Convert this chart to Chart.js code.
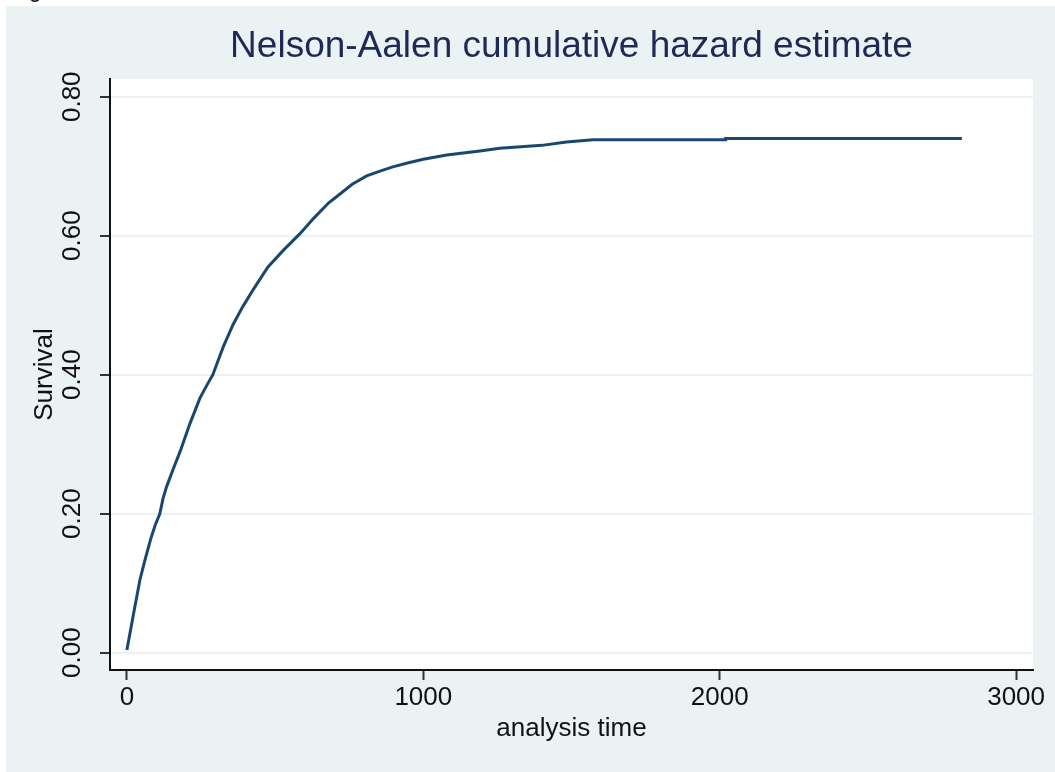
<!DOCTYPE html>
<html lang="en">
<head>
  <meta charset="UTF-8" />
  <title>Nelson-Aalen cumulative hazard estimate</title>
  <script src="https://cdn.jsdelivr.net/npm/chart.js"></script>
  <style>
    body { margin: 0; background: #fff; font-family: "Liberation Sans", Arial, sans-serif; }
    #frame { position: absolute; left: 6px; top: 6px; width: 1049px; height: 766px; background: #eaf2f3; }
    #stray { position: absolute; left: 29px; top: -20.6px; font-size: 22px; line-height: 1; color: #111; }
  </style>
</head>
<body>
  <div id="stray">g</div>
  <div id="frame">
    <canvas id="hazardChart" width="1049" height="766"></canvas>
  </div>

  <script>
    // values
    const times  = [0, 22, 44, 62, 80, 95, 111, 122, 134, 157, 180, 213, 246, 270, 290, 325, 358, 391, 430, 476, 530, 584, 630, 680, 719, 760, 809, 854, 897, 950, 1000, 1079, 1191, 1258, 1400, 1483, 1573, 2018, 2020, 2817];
    const hazard = [0.004, 0.055, 0.105, 0.135, 0.163, 0.183, 0.200, 0.222, 0.239, 0.265, 0.290, 0.330, 0.366, 0.385, 0.400, 0.440, 0.472, 0.498, 0.525, 0.555, 0.580, 0.603, 0.625, 0.647, 0.660, 0.674, 0.686, 0.693, 0.699, 0.705, 0.710, 0.716, 0.722, 0.726, 0.730, 0.735, 0.738, 0.738, 0.740, 0.740];
    const xTicks = [0, 1000, 2000, 3000];
    const yTicks = [0, 0.2, 0.4, 0.6, 0.8];

    const font = "'Liberation Sans', Arial, sans-serif";

    const plotBackground = {
      id: "plotBackground",
      beforeDraw(chart) {
        const a = chart.chartArea;
        chart.ctx.save();
        chart.ctx.fillStyle = "#ffffff";
        chart.ctx.fillRect(a.left, a.top, a.right - a.left, a.bottom - a.top);
        chart.ctx.restore();
      }
    };

    // y tick labels are rotated like the Stata original
    const rotatedYLabels = {
      id: "rotatedYLabels",
      afterDraw(chart) {
        const ctx = chart.ctx;
        const y = chart.scales.y;
        ctx.save();
        ctx.fillStyle = "#111111";
        ctx.font = "26px " + font;
        ctx.textAlign = "center";
        ctx.textBaseline = "middle";
        yTicks.forEach(v => {
          ctx.save();
          ctx.translate(67, y.getPixelForValue(v));
          ctx.rotate(-Math.PI / 2);
          ctx.fillText(v.toFixed(2), 0, 0);
          ctx.restore();
        });
        ctx.restore();
      }
    };

    const ctx = document.getElementById("hazardChart").getContext("2d");
    new Chart(ctx, {
      type: "line",
      data: {
        datasets: [{
          data: times.map((t, i) => ({ x: t, y: hazard[i] })),
          borderColor: "#1a476f",
          borderWidth: 3,
          pointRadius: 0,
          tension: 0,
          fill: false
        }]
      },
      options: {
        responsive: false,
        animation: false,
        devicePixelRatio: 1,
        layout: { padding: { left: 0, right: 22, top: 0, bottom: 0 } },
        plugins: {
          legend: { display: false },
          tooltip: { enabled: false },
          title: {
            display: true,
            text: "Nelson-Aalen cumulative hazard estimate",
            fullSize: false,
            color: "#1e2a55",
            font: { family: font, size: 37, weight: "normal", lineHeight: 1 },
            padding: { top: 22.5, bottom: 13.5 }
          }
        },
        scales: {
          x: {
            type: "linear",
            min: -57,
            max: 3057,
            afterBuildTicks: s => { s.ticks = xTicks.map(v => ({ value: v })); },
            afterFit: s => { s.height = 102; },
            border: { color: "#111111", width: 2 },
            grid: { drawOnChartArea: false, drawTicks: true, tickLength: 10, tickColor: "#333333", tickWidth: 2 },
            ticks: { color: "#111111", font: { family: font, size: 26 }, padding: 2, maxRotation: 0, callback: v => String(v) },
            title: {
              display: true,
              text: "analysis time",
              color: "#111111",
              font: { family: font, size: 26 },
              padding: { top: 0, bottom: 28 }
            }
          },
          y: {
            type: "linear",
            min: -0.0249,
            max: 0.8255,
            afterBuildTicks: s => { s.ticks = yTicks.map(v => ({ value: v })); },
            afterFit: s => { s.width = 104; },
            border: { color: "#111111", width: 2 },
            grid: { color: "#eaf2f3", lineWidth: 2, drawTicks: true, tickLength: 10, tickColor: "#333333", tickWidth: 2 },
            ticks: { display: false },
            title: {
              display: true,
              text: "Survival",
              color: "#111111",
              font: { family: font, size: 26 },
              padding: { top: 23, bottom: 0 }
            }
          }
        }
      },
      plugins: [plotBackground, rotatedYLabels]
    });
  </script>
</body>
</html>
